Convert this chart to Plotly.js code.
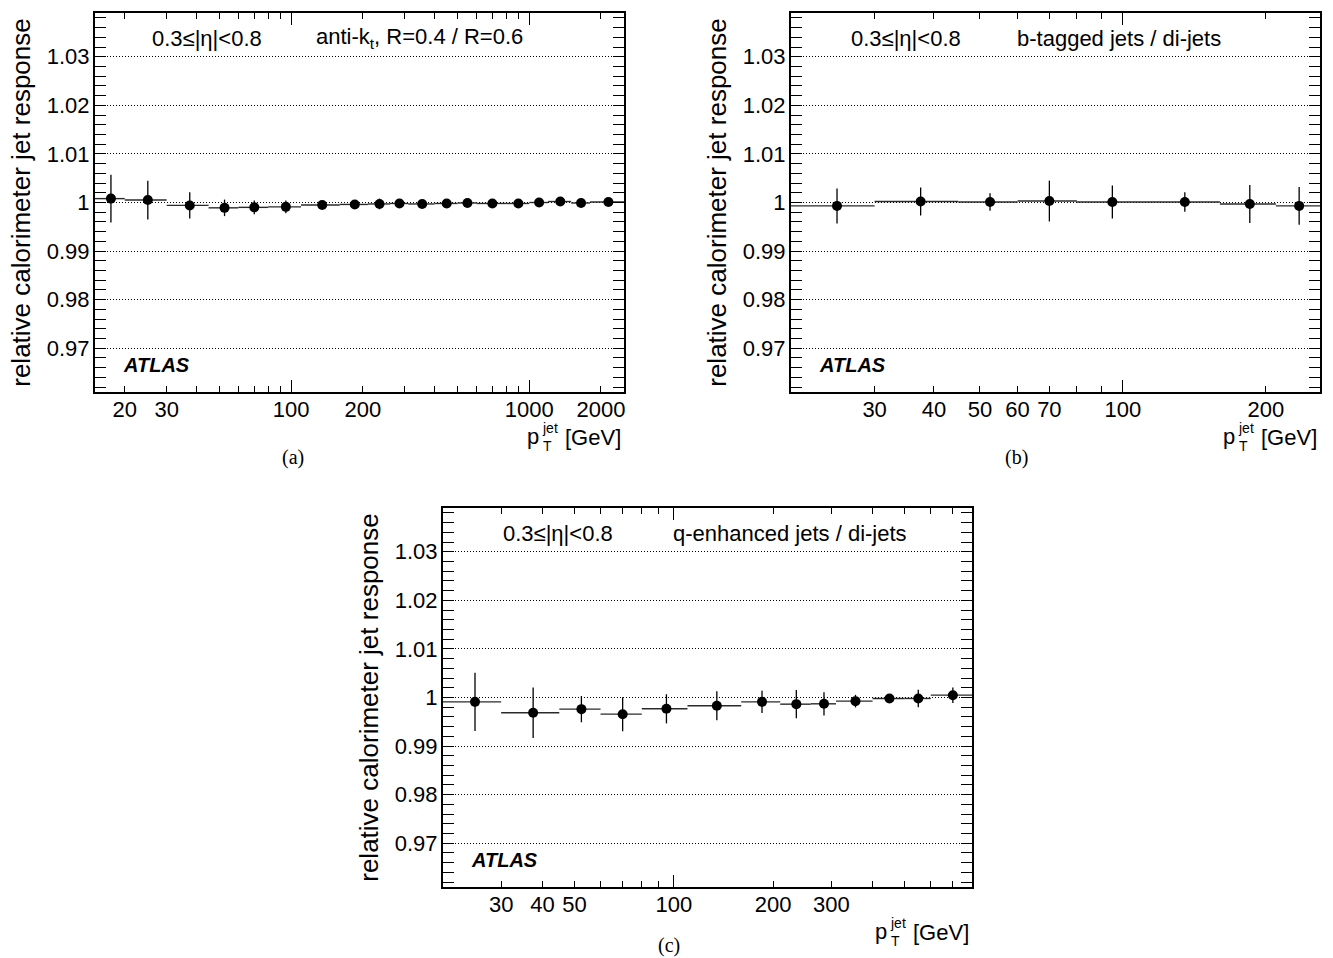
<!DOCTYPE html>
<html>
<head>
<meta charset="utf-8">
<script src="https://cdn.plot.ly/plotly-3.0.1.min.js"></script>
<style>html,body{margin:0;padding:0;background:#fff;}#chart{width:1333px;height:958px;}</style>
</head>
<body>
<div id="chart"></div>
<script>
// ---------- Data ----------
// (a) anti-kt R=0.4 / R=0.6
const a_pt    = [17.5, 25, 37.5, 52.5, 70, 95, 135, 185, 235, 285, 355, 450, 550, 700, 900, 1100, 1350, 1650, 2150];
const a_edges = [15, 20, 30, 45, 60, 80, 110, 160, 210, 260, 310, 400, 500, 600, 800, 1000, 1200, 1500, 1800, 2500];
const a_val   = [1.0008, 1.0005, 0.9994, 0.9989, 0.9990, 0.9991, 0.9995, 0.9996, 0.9997, 0.9998, 0.9997, 0.9998, 0.9999, 0.9998, 0.9998, 1.0000, 1.0002, 0.9999, 1.0001];
const a_err   = [0.0049, 0.0040, 0.0027, 0.0017, 0.0014, 0.0013, 0.0008, 0.0006, 0.0011, 0.0007, 0.0006, 0.0006, 0.0008, 0.0005, 0.0006, 0.0008, 0.0009, 0.0006, 0.0006];

// (b) b-tagged jets / di-jets
const b_pt    = [25, 37.5, 52.5, 70, 95, 135, 185, 235];
const b_edges = [20, 30, 45, 60, 80, 110, 160, 210, 260];
const b_val   = [0.9993, 1.0002, 1.0001, 1.0003, 1.0001, 1.0001, 0.9997, 0.9993];
const b_err   = [0.0036, 0.0029, 0.0018, 0.0042, 0.0034, 0.0020, 0.0039, 0.0039];

// (c) q-enhanced jets / di-jets
const c_pt    = [25, 37.5, 52.5, 70, 95, 135, 185, 235, 285, 355, 450, 550, 700];
const c_edges = [20, 30, 45, 60, 80, 110, 160, 210, 260, 310, 400, 500, 600, 800];
const c_val   = [0.9991, 0.99685, 0.9976, 0.99657, 0.99767, 0.9983, 0.9991, 0.99863, 0.9987, 0.99925, 0.9998, 0.9998, 1.00048];
const c_err   = [0.0060, 0.0052, 0.0027, 0.0035, 0.0030, 0.0030, 0.0023, 0.0029, 0.0024, 0.0013, 0.0005, 0.0018, 0.0016];

// tick labels
const yTickVals = [0.97, 0.98, 0.99, 1.00, 1.01, 1.02, 1.03];
const yTickText = ['0.97', '0.98', '0.99', '1', '1.01', '1.02', '1.03'];
const a_xlabels = [20, 30, 100, 200, 1000, 2000];
const b_xlabels = [30, 40, 50, 60, 70, 100, 200];
const c_xlabels = [30, 40, 50, 100, 200, 300];

const yTitle = 'relative calorimeter jet response';
const etaText = '0.3≤|η|<0.8';
const panelTitles = ['anti-k<sub>t</sub>, R=0.4 / R=0.6', 'b-tagged jets / di-jets', 'q-enhanced jets / di-jets'];
const panelLabels = ['(a)', '(b)', '(c)'];

// ---------- Helpers ----------
const FONT = 'Liberation Sans, Arial, Helvetica, sans-serif';
function allTicks(lo, hi) {
  const out = [];
  for (let d = 1; d <= 10000; d *= 10) {
    for (let m = 1; m <= 9; m++) {
      const v = m * d;
      if (v >= lo && v <= hi) out.push(v);
    }
  }
  return out;
}
function decades(lo, hi) {
  const out = [];
  for (let d = 1; d <= 10000; d *= 10) if (d >= lo && d <= hi) out.push(d);
  return out;
}
function series(pt, edges, val, err, xa, ya) {
  const plus = pt.map((p, i) => edges[i + 1] - p);
  const minus = pt.map((p, i) => p - edges[i]);
  return {
    type: 'scatter', mode: 'markers', x: pt, y: val,
    xaxis: xa, yaxis: ya, cliponaxis: false,
    marker: {color: '#000', size: 10, symbol: 'circle'},
    error_y: {type: 'data', array: err, visible: true, color: '#000', thickness: 1.3, width: 0},
    error_x: {type: 'data', array: plus, arrayminus: minus, symmetric: false, visible: true, color: '#2a2a2a', thickness: 1.4, width: 0},
    showlegend: false, hoverinfo: 'skip'
  };
}

const panels = [
  {pt: a_pt, edges: a_edges, val: a_val, err: a_err, lab: a_xlabels, range: [15, 2500],
   x: [95, 624], y: [13, 392], eta: 207, ttl: 419, lbl: [293, 458]},
  {pt: b_pt, edges: b_edges, val: b_val, err: b_err, lab: b_xlabels, range: [20, 260],
   x: [791, 1320], y: [13, 392], eta: 906, ttl: 1119, lbl: [1017, 458]},
  {pt: c_pt, edges: c_edges, val: c_val, err: c_err, lab: c_xlabels, range: [20, 800],
   x: [443, 972], y: [508, 887], eta: 558, ttl: 790, lbl: [669, 945]}
];

const W = 1333, H = 958;
const data = [];
const layout = {
  width: W, height: H, margin: {l: 0, r: 0, t: 0, b: 0},
  paper_bgcolor: '#fff', plot_bgcolor: '#fff', showlegend: false,
  font: {family: FONT, size: 21, color: '#000'},
  annotations: []
};
function ann(x, y, text, size, xanchor, extra) {
  return Object.assign({xref: 'paper', yref: 'paper', x: x / W, y: 1 - y / H, xanchor: xanchor || 'center', yanchor: 'middle',
    text: text, showarrow: false, borderpad: 0, font: {family: FONT, size: size, color: '#000'}}, extra || {});
}

panels.forEach((p, k) => {
  const n = k + 1;
  const xa = 'x' + n, ya = 'y' + n;
  const xo = 'x' + (n + 3); // overlay axis for long decade ticks
  const xdom = [p.x[0] / W, p.x[1] / W];
  const ydom = [1 - p.y[1] / H, 1 - p.y[0] / H];
  const lr = [Math.log10(p.range[0]), Math.log10(p.range[1])];
  const ticks = allTicks(p.range[0], p.range[1]);
  const ttext = ticks.map(v => p.lab.includes(v) ? String(v) : '');

  data.push(series(p.pt, p.edges, p.val, p.err, xa, ya));
  data.push({type: 'scatter', mode: 'markers', x: [p.range[0]], y: [0.5], xaxis: xo, yaxis: ya,
             marker: {opacity: 0}, showlegend: false, hoverinfo: 'skip'});

  layout['xaxis' + n] = {
    type: 'log', range: lr, domain: xdom, anchor: ya,
    tickmode: 'array', tickvals: ticks, ticktext: ttext,
    ticks: 'inside', ticklen: 6, tickwidth: 1, tickcolor: '#000',
    showline: true, linecolor: '#000', linewidth: 2, mirror: 'allticks',
    showgrid: false, zeroline: false,
    tickfont: {family: FONT, size: 22, color: '#000'}, ticklabelstandoff: -3,
    fixedrange: true
  };
  layout['xaxis' + (n + 3)] = {
    type: 'log', range: lr, overlaying: xa, anchor: ya, side: 'bottom',
    tickmode: 'array', tickvals: decades(p.range[0], p.range[1]), showticklabels: false,
    ticks: 'inside', ticklen: 12, tickwidth: 1, tickcolor: '#000',
    showline: false, mirror: 'allticks', showgrid: false, zeroline: false,
    fixedrange: true
  };
  layout['yaxis' + n] = {
    range: [0.961, 1.039], domain: ydom, anchor: xa,
    tickmode: 'array', tickvals: yTickVals, ticktext: yTickText,
    ticks: 'inside', ticklen: 11, tickwidth: 1, tickcolor: '#000',
    minor: {dtick: 0.002, tick0: 0.96, ticks: 'inside', ticklen: 6, tickwidth: 1, tickcolor: '#000', showgrid: false},
    showline: true, linecolor: '#000', linewidth: 2, mirror: 'allticks',
    showgrid: true, gridcolor: '#000', gridwidth: 1, griddash: '1px,2px',
    zeroline: false,
    tickfont: {family: FONT, size: 22, color: '#000'}, ticklabelstandoff: -1,
    title: {text: yTitle, font: {family: FONT, size: 26, color: '#000'}, standoff: 9},
    fixedrange: true
  };

  // inner texts
  const ytxt = p.y[0] + 25;
  layout.annotations.push(ann(p.eta, ytxt, etaText, 22));
  layout.annotations.push(ann(p.ttl, ytxt, panelTitles[k], 22));
  layout.annotations.push(ann(p.x[0] + 27, p.y[0] + 352, '<b><i>ATLAS</i></b>', 20, 'left'));
  // x title: p with stacked T / jet, then [GeV], right aligned at axis end
  const xr = p.x[1], yt = p.y[1] + 45;
  layout.annotations.push(ann(xr - 2, yt, '[GeV]', 22, 'right'));
  layout.annotations.push(ann(xr - 84, yt - 1, 'p', 22, 'right'));
  layout.annotations.push(ann(xr - 83, yt - 9, 'jet', 14, 'left'));
  layout.annotations.push(ann(xr - 82, yt + 9, 'T', 14, 'left'));
  // panel label
  layout.annotations.push(ann(p.lbl[0], p.lbl[1], panelLabels[k], 20, 'center',
    {font: {family: 'Liberation Serif, DejaVu Serif, serif', size: 20, color: '#000'}}));
});

Plotly.newPlot('chart', data, layout, {displayModeBar: false, staticPlot: true});
</script>
</body>
</html>
